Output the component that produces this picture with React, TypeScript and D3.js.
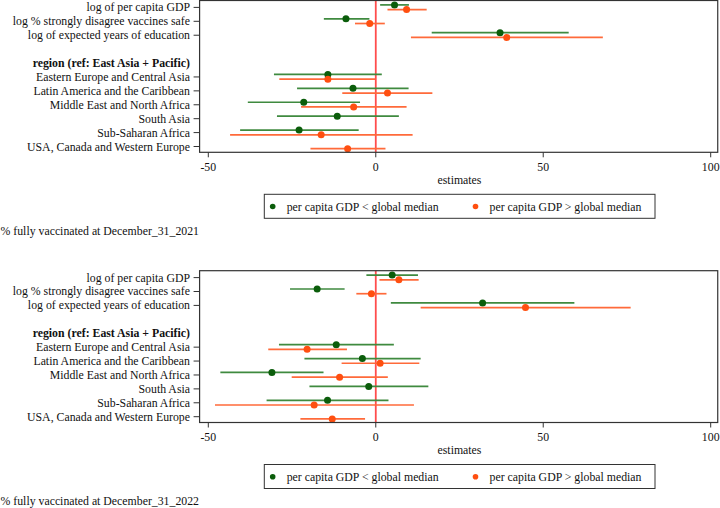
import React, { useEffect, useRef } from 'react';
import * as d3 from 'd3';

// rows of the coefficient plot, top to bottom ('' = spacer, header has no tick)
const rowLabels = [
  'log of per capita GDP',
  'log % strongly disagree vaccines safe',
  'log of expected years of education',
  '',
  'region (ref: East Asia + Pacific)',
  'Eastern Europe and Central Asia',
  'Latin America and the Caribbean',
  'Middle East and North Africa',
  'South Asia',
  'Sub-Saharan Africa',
  'USA, Canada and Western Europe',
];
const headerRow = 'region (ref: East Asia + Pacific)';

// coefficient rows (same order as the labelled rows above)
const coefRows = [
  'log of per capita GDP',
  'log % strongly disagree vaccines safe',
  'log of expected years of education',
  'Eastern Europe and Central Asia',
  'Latin America and the Caribbean',
  'Middle East and North Africa',
  'South Asia',
  'Sub-Saharan Africa',
  'USA, Canada and Western Europe',
];

const xTicks = [-50, 0, 50, 100];
const seriesNames = ['per capita GDP < global median', 'per capita GDP > global median'];

// December 31, 2021
const low2021Est = [5.6, -8.9, 37.1, -14.3, -6.8, -21.5, -11.5, -22.9, null];
const low2021Lo = [1.3, -15.5, 16.7, -30.4, -23.5, -38.2, -29.5, -40.5, null];
const low2021Hi = [9.9, -1.9, 57.6, 1.8, 9.8, -4.7, 6.9, -5.1, null];
const high2021Est = [9.2, -1.8, 39.1, -14.3, 3.5, -6.6, null, -16.3, -8.4];
const high2021Lo = [3.5, -6.2, 10.5, -28.8, -10.0, -22.3, null, -43.5, -19.5];
const high2021Hi = [15.2, 2.7, 67.8, -0.2, 16.9, 9.2, null, 11.0, 2.9];

// December 31, 2022
const low2022Est = [4.9, -17.5, 31.9, -11.8, -4.0, -31.0, -2.1, -14.4, null];
const low2022Lo = [-2.8, -25.6, 4.5, -28.9, -21.3, -46.4, -19.8, -32.6, null];
const low2022Hi = [12.6, -9.3, 59.3, 5.4, 13.4, -15.6, 15.7, 3.8, null];
const high2022Est = [6.9, -1.3, 44.7, -20.5, 1.3, -10.8, null, -18.4, -13.0];
const high2022Lo = [1.1, -5.8, 13.4, -32.1, -10.2, -25.1, null, -48.0, -22.5];
const high2022Hi = [12.8, 3.2, 76.1, -8.6, 13.0, 3.6, null, 11.4, -3.2];

const captions = ['% fully vaccinated at December_31_2021', '% fully vaccinated at December_31_2022'];

type Series = { est: (number | null)[]; lo: (number | null)[]; hi: (number | null)[] };

const panels: { low: Series; high: Series; caption: string }[] = [
  {
    low: { est: low2021Est, lo: low2021Lo, hi: low2021Hi },
    high: { est: high2021Est, lo: high2021Lo, hi: high2021Hi },
    caption: captions[0],
  },
  {
    low: { est: low2022Est, lo: low2022Lo, hi: low2022Hi },
    high: { est: high2022Est, lo: high2022Lo, hi: high2022Hi },
    caption: captions[1],
  },
];

const WIDTH = 720;
const HEIGHT = 508;
const FONT = '"Liberation Serif", "Times New Roman", serif';
const GREEN_DOT = '#0b5d0b';
const GREEN_LINE = '#3f8a3f';
const ORANGE_DOT = '#ff4f10';
const ORANGE_LINE = '#ff6a3a';

const App: React.FC = () => {
  const svgRef = useRef<SVGSVGElement>(null);

  useEffect(() => {
    if (!svgRef.current) return;

    d3.select(svgRef.current).selectAll('*').remove();
    const svg = d3.select(svgRef.current);

    const x = d3.scaleLinear().domain([-50, 100]).range([208.3, 710.7]);
    const frameLeft = x(-52.6);
    const frameRight = x(102.1);

    const y = d3.scalePoint<string>()
      .domain(rowLabels.map((_, i) => String(i)))
      .range([7.4, 146.5]);
    const rowY = (label: string) => y(String(rowLabels.indexOf(label))) as number;

    panels.forEach((panel, pi) => {
      const g = svg.append('g').attr('transform', `translate(0,${pi * 270.2})`);
      const frameTop = 0.5;
      const frameBottom = 152.3;

      // zero line
      g.append('line')
        .attr('x1', x(0)).attr('x2', x(0))
        .attr('y1', frameTop).attr('y2', frameBottom)
        .attr('stroke', '#ff4d4d')
        .attr('stroke-width', 1.8);

      // confidence intervals and estimates
      const drawSeries = (s: Series, dy: number, lineColor: string, dotColor: string) => {
        coefRows.forEach((row, i) => {
          const est = s.est[i];
          const lo = s.lo[i];
          const hi = s.hi[i];
          if (est == null || lo == null || hi == null) return;
          const cy = rowY(row) + dy;
          g.append('line')
            .attr('x1', x(lo)).attr('x2', x(hi))
            .attr('y1', cy).attr('y2', cy)
            .attr('stroke', lineColor)
            .attr('stroke-width', 1.7);
          g.append('circle')
            .attr('cx', x(est)).attr('cy', cy)
            .attr('r', 3.5)
            .attr('fill', dotColor);
        });
      };
      drawSeries(panel.low, -2.5, GREEN_LINE, GREEN_DOT);
      drawSeries(panel.high, 2.2, ORANGE_LINE, ORANGE_DOT);

      // frame
      g.append('rect')
        .attr('x', frameLeft).attr('y', frameTop)
        .attr('width', frameRight - frameLeft)
        .attr('height', frameBottom - frameTop)
        .attr('fill', 'none')
        .attr('stroke', '#333')
        .attr('stroke-width', 1.2);

      // y labels + ticks
      rowLabels.forEach((label) => {
        if (!label) return;
        const ly = rowY(label);
        const isHeader = label === headerRow;
        if (!isHeader) {
          g.append('line')
            .attr('x1', frameLeft - 6).attr('x2', frameLeft)
            .attr('y1', ly).attr('y2', ly)
            .attr('stroke', '#333');
        }
        g.append('text')
          .attr('x', 190)
          .attr('y', ly + 4)
          .attr('text-anchor', 'end')
          .attr('font-family', FONT)
          .attr('font-size', 11.8)
          .attr('font-weight', isHeader ? 'bold' : 'normal')
          .attr('fill', '#111')
          .text(label);
      });

      // x axis ticks
      xTicks.forEach((t) => {
        g.append('line')
          .attr('x1', x(t)).attr('x2', x(t))
          .attr('y1', frameBottom).attr('y2', frameBottom + 5)
          .attr('stroke', '#333');
        g.append('text')
          .attr('x', x(t))
          .attr('y', 171)
          .attr('text-anchor', 'middle')
          .attr('font-family', FONT)
          .attr('font-size', 11.8)
          .attr('fill', '#111')
          .text(String(t));
      });

      g.append('text')
        .attr('x', x(25))
        .attr('y', 184)
        .attr('text-anchor', 'middle')
        .attr('font-family', FONT)
        .attr('font-size', 11.8)
        .attr('fill', '#111')
        .text('estimates');

      // legend
      const legend = g.append('g');
      legend.append('rect')
        .attr('x', 264.3).attr('y', 194.3)
        .attr('width', 390.7).attr('height', 24)
        .attr('fill', 'white')
        .attr('stroke', '#333')
        .attr('stroke-width', 1);
      const legendItems = [
        { name: seriesNames[0], color: GREEN_DOT, x0: 272.7 },
        { name: seriesNames[1], color: ORANGE_DOT, x0: 475.5 },
      ];
      legendItems.forEach((item) => {
        legend.append('circle')
          .attr('cx', item.x0).attr('cy', 206.5)
          .attr('r', 2.8)
          .attr('fill', item.color);
        legend.append('text')
          .attr('x', item.x0 + 14)
          .attr('y', 210.5)
          .attr('font-family', FONT)
          .attr('font-size', 11.8)
          .attr('fill', '#111')
          .text(item.name);
      });

      // caption
      g.append('text')
        .attr('x', 0.5)
        .attr('y', 235)
        .attr('font-family', FONT)
        .attr('font-size', 11.8)
        .attr('fill', '#111')
        .text(panel.caption);
    });
  }, []);

  return (
    <div style={{ position: 'absolute', left: 0, top: 0 }}>
      <svg ref={svgRef} width={WIDTH} height={HEIGHT} style={{ display: 'block', background: 'white' }} />
    </div>
  );
};

export default App;
